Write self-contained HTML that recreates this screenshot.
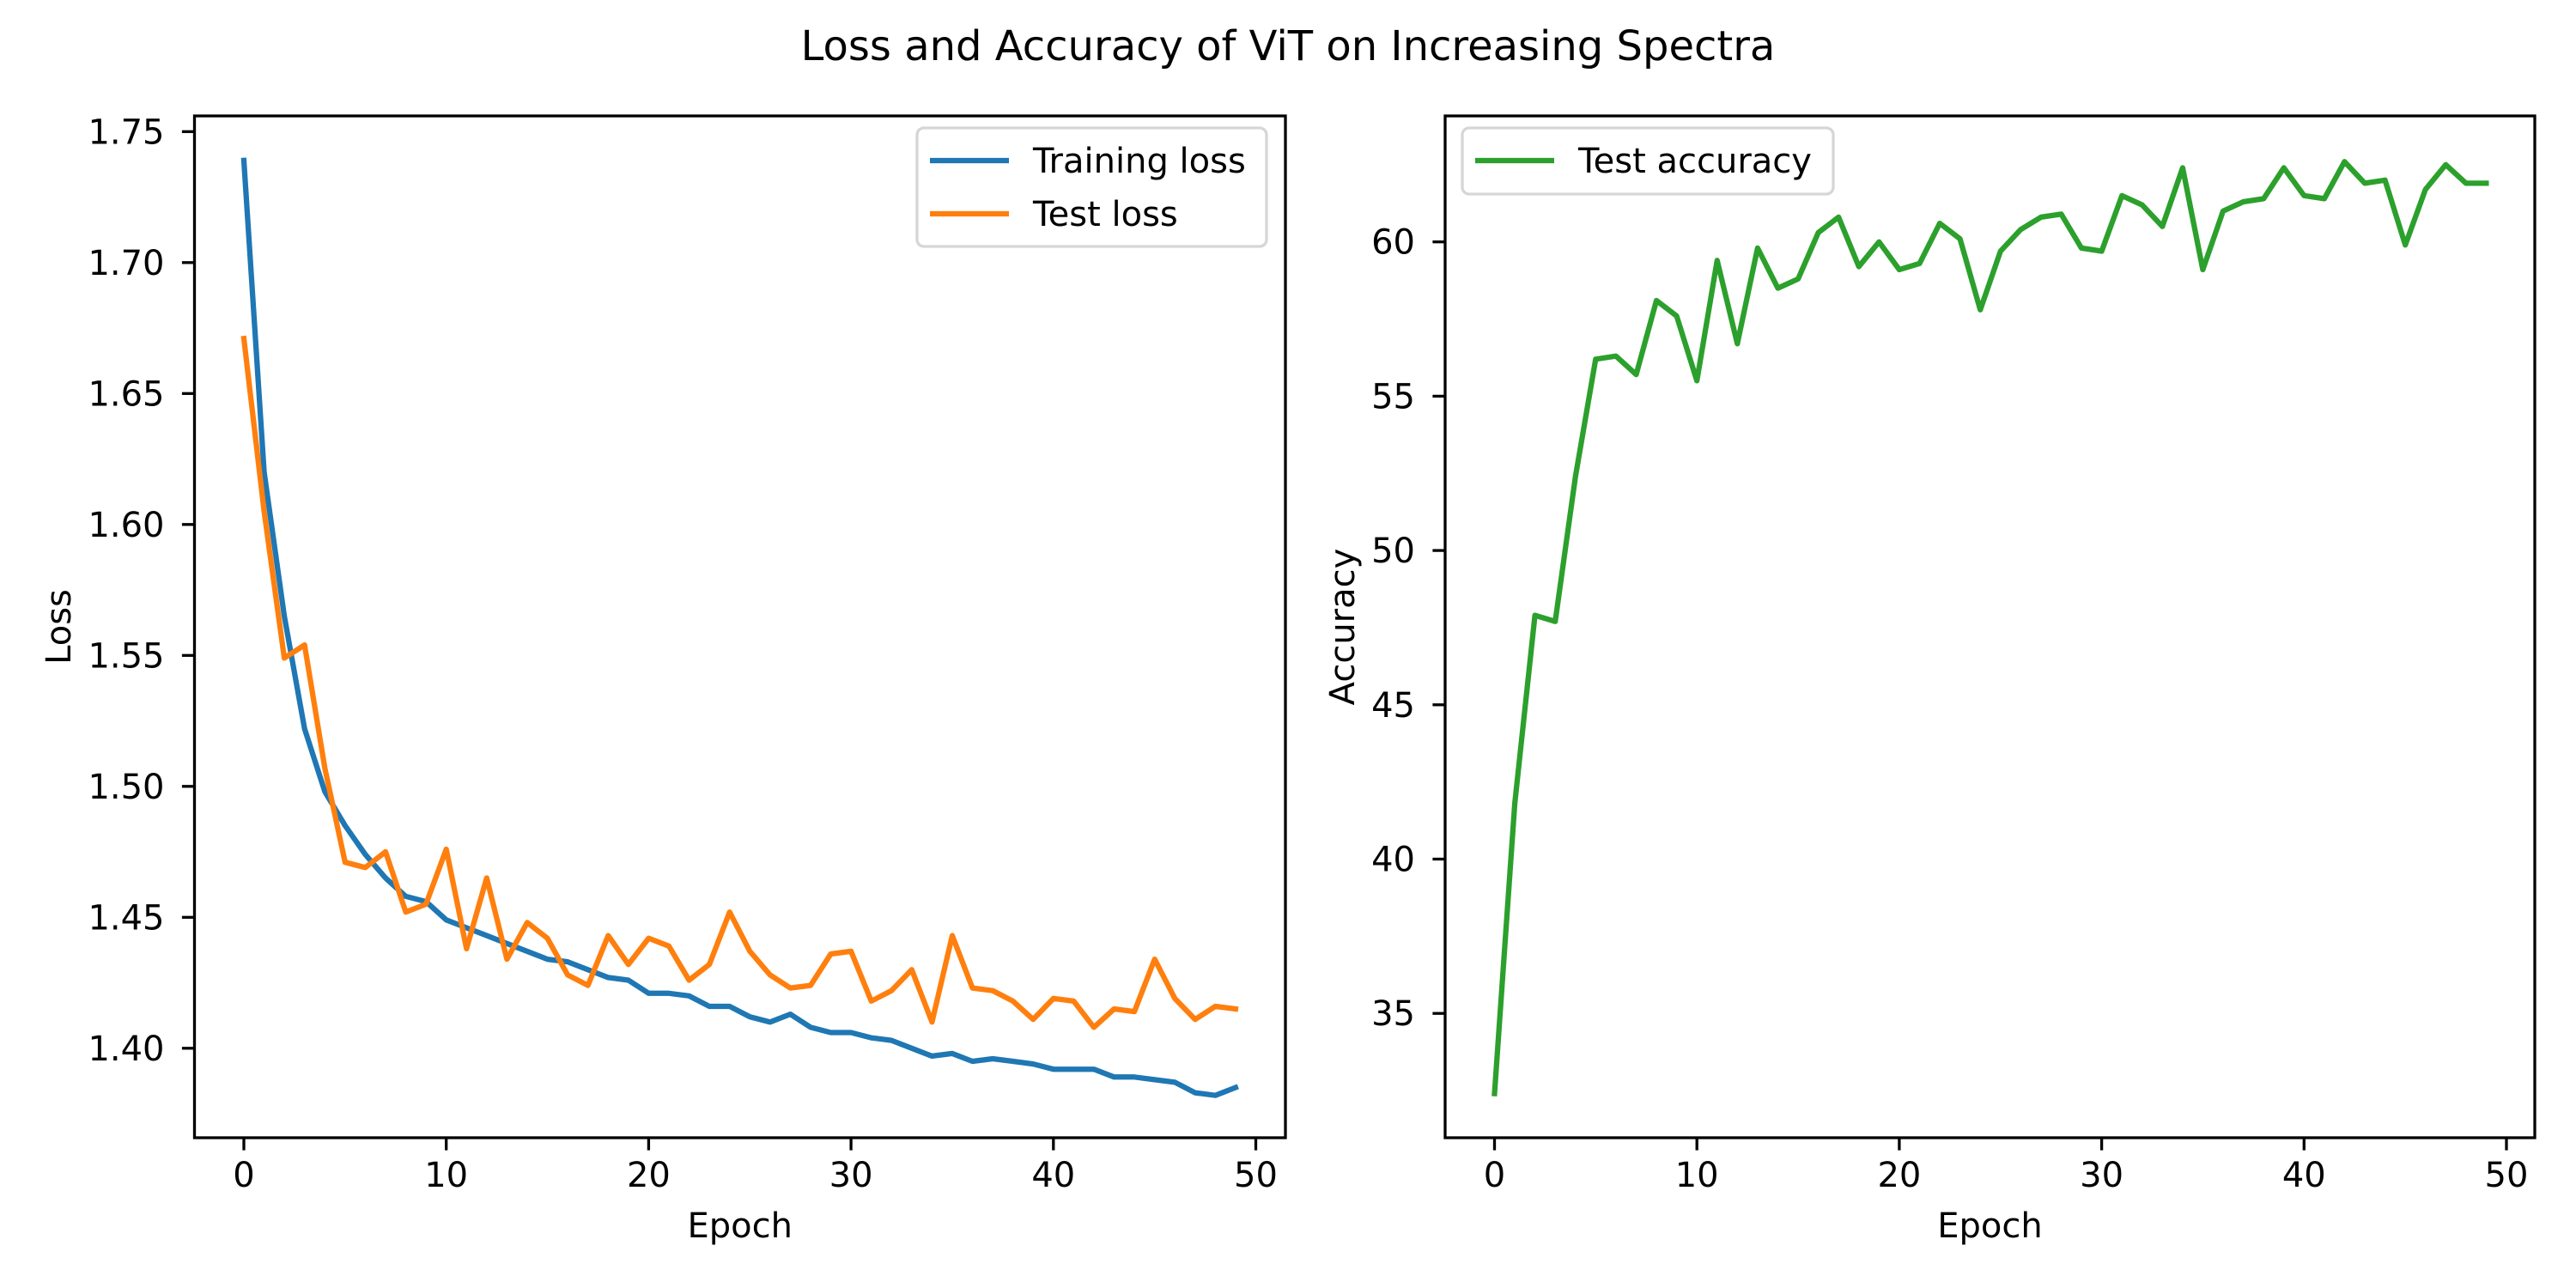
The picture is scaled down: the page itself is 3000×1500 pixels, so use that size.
<!DOCTYPE html>
<html><head><meta charset="utf-8"><style>
html,body{margin:0;padding:0;background:#fff;}
svg{display:block;font-family:"DejaVu Sans","Liberation Sans",sans-serif;}
</style></head><body>
<svg id="chart" width="3000" height="1500" viewBox="0 0 3000 1500" xmlns="http://www.w3.org/2000/svg">
<rect width="3000" height="1500" fill="#fff"/>
<text x="1500" y="70" font-size="48" text-anchor="middle">Loss and Accuracy of ViT on Increasing Spectra</text>
<g id="left"></g><g id="right"></g>
</svg>
<script>
const epochs = Array.from({length:50},(_, i)=>i);
const trainLoss = [1.739,1.62,1.565,1.522,1.498,1.485,1.474,1.465,1.458,1.456,1.449,1.446,1.443,1.440,1.437,1.434,1.433,1.430,1.427,1.426,1.421,1.421,1.420,1.416,1.416,1.412,1.410,1.413,1.408,1.406,1.406,1.404,1.403,1.400,1.397,1.398,1.395,1.396,1.395,1.394,1.392,1.392,1.392,1.389,1.389,1.388,1.387,1.383,1.382,1.385];
const testLoss = [1.671,1.605,1.549,1.554,1.507,1.471,1.469,1.475,1.452,1.455,1.476,1.438,1.465,1.434,1.448,1.442,1.428,1.424,1.443,1.432,1.442,1.439,1.426,1.432,1.452,1.437,1.428,1.423,1.424,1.436,1.437,1.418,1.422,1.430,1.410,1.443,1.423,1.422,1.418,1.411,1.419,1.418,1.408,1.415,1.414,1.434,1.419,1.411,1.416,1.415];
const testAcc = [32.4,41.8,47.9,47.7,52.4,56.2,56.3,55.7,58.1,57.6,55.5,59.4,56.7,59.8,58.5,58.8,60.3,60.8,59.2,60.0,59.1,59.3,60.6,60.1,57.8,59.7,60.4,60.8,60.9,59.8,59.7,61.5,61.2,60.5,62.4,59.1,61.0,61.3,61.4,62.4,61.5,61.4,62.6,61.9,62.0,59.9,61.7,62.5,61.9,61.9];
const xTicks = [0,10,20,30,40,50];
const lossTicks = [1.40,1.45,1.50,1.55,1.60,1.65,1.70,1.75];
const accTicks = [35,40,45,50,55,60];

const NS='http://www.w3.org/2000/svg';
function mk(parent,tag,attrs,text){const e=document.createElementNS(NS,tag);for(const k in attrs)e.setAttribute(k,attrs[k]);if(text!==undefined)e.textContent=text;parent.appendChild(e);return e;}

function drawPanel(g, ax){
  const xs = e => ax.x0 + e*23.57;
  const ys = v => ax.yRef + (ax.vRef - v)/ax.step*ax.stepPx;
  ax.series.forEach(s=>{
    const d = s.vals.map((v,i)=>(i?'L':'M')+xs(epochs[i]).toFixed(1)+','+ys(v).toFixed(1)).join(' ');
    const p = mk(g,'path',{d:d,fill:'none',stroke:s.color,'stroke-width':6.25,'stroke-linejoin':'round','stroke-linecap':'square'});
    
    
  });
  const fr = mk(g,'rect',{x:ax.l,y:ax.t,width:ax.r-ax.l,height:ax.b-ax.t,fill:'none',stroke:'#000','stroke-width':3.3});
  
  
  xTicks.forEach(t=>{
    const x=xs(t);
    mk(g,'line',{x1:x,x2:x,y1:ax.b,y2:ax.b+14.6,stroke:'#000','stroke-width':3.3});
    const tx = mk(g,'text',{x:x,y:ax.b+57,'font-size':40,'text-anchor':'middle'},String(t));
    
    
  });
  ax.yTicks.forEach(t=>{
    const y=ys(t);
    mk(g,'line',{x1:ax.l-14.6,x2:ax.l,y1:y,y2:y,stroke:'#000','stroke-width':3.3});
    const tx = mk(g,'text',{x:ax.l-35,y:y+14,'font-size':40,'text-anchor':'end'},ax.fmt(t));
    
    
  });
  const xl = mk(g,'text',{x:(ax.l+ax.r)/2,y:1441,'font-size':40,'text-anchor':'middle'},'Epoch');
  
  
  const yl = mk(g,'text',{x:0,y:0,'font-size':40,'text-anchor':'middle',transform:`translate(${ax.ylx},${(ax.t+ax.b)/2}) rotate(-90)`},ax.ylabel);
  
  
  const L=ax.legend;
  const lg = mk(g,'g',{});
  
  
  mk(lg,'rect',{x:L.x,y:L.y,width:L.w,height:L.h,rx:8,fill:'#fff','fill-opacity':0.8,stroke:'#d6d6d6','stroke-width':3.3});
  ax.series.forEach((s,i)=>{
    const y=L.y+38+i*62;
    const ent = mk(lg,'g',{});
    
    
    mk(ent,'line',{x1:L.x+15,x2:L.x+107,y1:y,y2:y,stroke:s.color,'stroke-width':6.25});
    mk(ent,'text',{x:L.x+135,y:y+14,'font-size':40},s.label);
  });
}

drawPanel(document.getElementById('left'),{
  id:'loss-panel', l:226.5, r:1497, t:135, b:1325, x0:284, yRef:153.3, vRef:1.75, step:0.05, stepPx:152.5,
  yTicks:lossTicks, fmt:v=>v.toFixed(2), ylabel:'Loss', ylx:82,
  series:[{name:'training-loss-line',label:'Training loss',color:'#1f77b4',vals:trainLoss},
          {name:'test-loss-line',label:'Test loss',color:'#ff7f0e',vals:testLoss}],
  legend:{x:1068,y:149,w:407,h:138}
});
drawPanel(document.getElementById('right'),{
  id:'accuracy-panel', l:1683, r:2952, t:135, b:1325, x0:1740.5, yRef:281.7, vRef:60, step:5, stepPx:179.7,
  yTicks:accTicks, fmt:v=>String(v), ylabel:'Accuracy', ylx:1577,
  series:[{name:'test-accuracy-line',label:'Test accuracy',color:'#2ca02c',vals:testAcc}],
  legend:{x:1703,y:149,w:432,h:77}
});
</script>
</body></html>
